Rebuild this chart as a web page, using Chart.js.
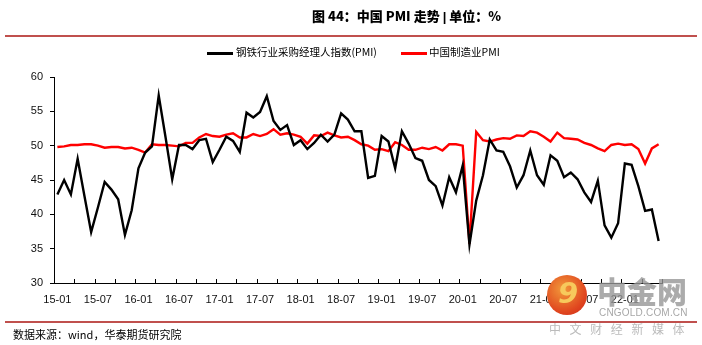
<!DOCTYPE html>
<html>
<head>
<meta charset="utf-8">
<script src="https://cdn.jsdelivr.net/npm/chart.js@4.4.1/dist/chart.umd.min.js"></script>
<style>
  html, body { margin: 0; padding: 0; background: #fff; }
  #page { position: relative; width: 702px; height: 345px; overflow: hidden; font-family: "Noto Sans CJK SC", "Liberation Sans", sans-serif; }
  #chart { position: absolute; left: 0; top: 0; }
  .title { position: absolute; left: 312px; top: 6px; font-size: 13px; font-weight: 900; color: #000; white-space: nowrap; }
  .title .bar { font-family: "Liberation Sans", sans-serif; font-weight: 700; margin: 0 3px; }
  .rule { position: absolute; left: 5px; width: 692px; height: 2px; background: #c0504d; }
  .legend { position: absolute; top: 44px; font-size: 10.5px; color: #000; white-space: nowrap; }
  .legend i { position: absolute; top: 8px; width: 26px; height: 2.5px; }
  .legend span { position: absolute; top: 0; }
  .source { position: absolute; left: 13px; top: 326px; font-size: 11px; color: #000; white-space: nowrap; }
  .wm-logo { position: absolute; left: 547px; top: 275px; width: 40px; height: 40px; border-radius: 50%; background: radial-gradient(circle at 40% 35%, #f29a3a, #e0461f 65%, #c9281a); z-index: 2; }
  .wm-logo b { position: absolute; left: 11px; top: 1px; font: 900 italic 29px "DejaVu Sans", sans-serif; color: #f7c95c; }
  .wm-big { position: absolute; left: 597px; top: 268px; font-size: 30px; font-weight: 900; color: rgba(150,150,150,0.8); z-index: 2; white-space: nowrap; }
  .wm-url { position: absolute; left: 599px; top: 307px; font: 10px "Liberation Sans", sans-serif; color: rgba(150,150,150,0.85); letter-spacing: 0.2px; z-index: 2; }
  .wm-cn { position: absolute; left: 549px; top: 320px; font-size: 12px; color: rgba(170,170,170,0.8); letter-spacing: 8.6px; z-index: 2; white-space: nowrap; }
</style>
</head>
<body>
<div id="page">
  <canvas id="chart" width="702" height="345"></canvas>
  <div class="title">图 44：中国 PMI 走势<span class="bar">|</span>单位：%</div>
  <div class="rule" style="top:35px"></div>
  <div class="legend" style="left:207px"><i style="left:0;background:#000"></i><span style="left:29px">钢铁行业采购经理人指数(PMI)</span></div>
  <div class="legend" style="left:401px"><i style="left:0;background:#ff0000"></i><span style="left:28px">中国制造业PMI</span></div>
  <div class="rule" style="top:321px"></div>
  <div class="source">数据来源：wind，华泰期货研究院</div>
  <div class="wm-logo"><b>9</b></div>
  <div class="wm-big">中金网</div>
  <div class="wm-url">CNGOLD.COM.CN</div>
  <div class="wm-cn">中文财经新媒体</div>
</div>
<script>
// monthly series, 2015-01 .. 2022-06
const START_YEAR = 2015;
const MONTH_COUNT = 90;

const steelPmi = [
  42.9, 45.0, 42.9, 48.1, 42.7, 37.4, 41.0, 44.7, 43.6, 42.2, 37.0, 40.6,
  46.7, 49.0, 49.9, 57.3, 51.3, 45.1, 50.1, 50.1, 49.5, 50.8, 51.0, 47.6,
  49.4, 51.3, 50.7, 49.1, 54.8, 54.1, 54.9, 57.2, 53.6, 52.3, 53.0, 50.1,
  50.8, 49.5, 50.4, 51.6, 50.6, 51.6, 54.7, 53.8, 52.1, 52.1, 45.3, 45.6,
  51.4, 50.6, 46.7, 52.1, 50.3, 48.2, 47.8, 45.0, 44.1, 41.3, 45.4, 43.2,
  47.1, 35.6, 42.0, 45.7, 50.9, 49.3, 49.1, 47.0, 43.9, 45.7, 49.3, 45.7,
  44.3, 48.6, 47.8, 45.4, 46.1, 45.1, 43.2, 41.8, 44.9, 38.4, 36.6, 38.7,
  47.4, 47.2, 44.1, 40.5, 40.7, 36.1
];

const mfgPmi = [
  49.8, 49.9, 50.1, 50.1, 50.2, 50.2, 50.0, 49.7, 49.8, 49.8, 49.6, 49.7,
  49.4, 49.0, 50.2, 50.1, 50.1, 50.0, 49.9, 50.4, 50.4, 51.2, 51.7, 51.4,
  51.3, 51.6, 51.8, 51.2, 51.2, 51.7, 51.4, 51.7, 52.4, 51.6, 51.8, 51.6,
  51.3, 50.3, 51.5, 51.4, 51.9, 51.5, 51.2, 51.3, 50.8, 50.2, 50.0, 49.4,
  49.5, 49.2, 50.5, 50.1, 49.4, 49.4, 49.7, 49.5, 49.8, 49.3, 50.2, 50.2,
  50.0, 35.7, 52.0, 50.8, 50.6, 50.9, 51.1, 51.0, 51.5, 51.4, 52.1, 51.9,
  51.3, 50.6, 51.9, 51.1, 51.0, 50.9, 50.4, 50.1, 49.6, 49.2, 50.1, 50.3,
  50.1, 50.2, 49.5, 47.4, 49.6, 50.2
];

const yTicks = [30, 35, 40, 45, 50, 55, 60];

(function(){
  const AXIS = '#000';
  const TICK_FONT = { family: '"Liberation Sans", Arial, sans-serif', size: 11 };

  function monthLabels() {
    const out = [];
    for (let i = 0; i < MONTH_COUNT; i++) {
      const y = String((START_YEAR + Math.floor(i / 12)) % 100).padStart(2, '0');
      const m = String(i % 12 + 1).padStart(2, '0');
      out.push(`${y}-${m}`);
    }
    return out;
  }

  // small tick marks pointing up from the x axis, every quarter boundary
  const quarterTicks = {
    id: 'quarterTicks',
    afterDraw(chart) {
      const x = chart.scales.x, ctx = chart.ctx;
      const step = x.getPixelForValue(1) - x.getPixelForValue(0);
      const first = x.getPixelForValue(0) - step / 2;
      ctx.save();
      ctx.strokeStyle = AXIS;
      ctx.lineWidth = 1;
      ctx.beginPath();
      for (let i = 0; i <= MONTH_COUNT; i += 3) {
        const px = Math.round(first + i * step) + 0.5;
        ctx.moveTo(px, x.top);
        ctx.lineTo(px, x.top - 4);
      }
      ctx.stroke();
      ctx.restore();
    }
  };

  const labels = monthLabels();

  new Chart(document.getElementById('chart'), {
    type: 'line',
    data: {
      labels,
      datasets: [
        { label: '钢铁行业采购经理人指数(PMI)', data: steelPmi, borderColor: '#000', borderWidth: 2.4, pointRadius: 0, tension: 0 },
        { label: '中国制造业PMI', data: mfgPmi, borderColor: '#ff0000', borderWidth: 2.4, pointRadius: 0, tension: 0 }
      ]
    },
    options: {
      responsive: false,
      animation: false,
      layout: { padding: { left: 0, top: 77, right: 40, bottom: 36 } },
      plugins: { legend: { display: false }, tooltip: { enabled: false } },
      scales: {
        x: {
          offset: true,
          grid: { display: false },
          border: { display: true, color: AXIS, width: 1 },
          ticks: {
            autoSkip: false, maxRotation: 0, padding: 2, color: '#111', font: TICK_FONT,
            callback: (v, i) => i % 6 === 0 ? labels[i] : ''
          },
          afterFit(scale) { scale.height = 26; }
        },
        y: {
          min: 30, max: 60,
          afterBuildTicks(scale) { scale.ticks = yTicks.map(v => ({ value: v })); },
          grid: { drawOnChartArea: false, drawTicks: true, tickLength: 4, color: AXIS },
          border: { display: true, color: AXIS, width: 1 },
          ticks: { padding: 7, color: '#111', font: TICK_FONT },
          afterFit(scale) { scale.width = 54; }
        }
      }
    },
    plugins: [quarterTicks]
  });
})();
</script>
</body>
</html>
